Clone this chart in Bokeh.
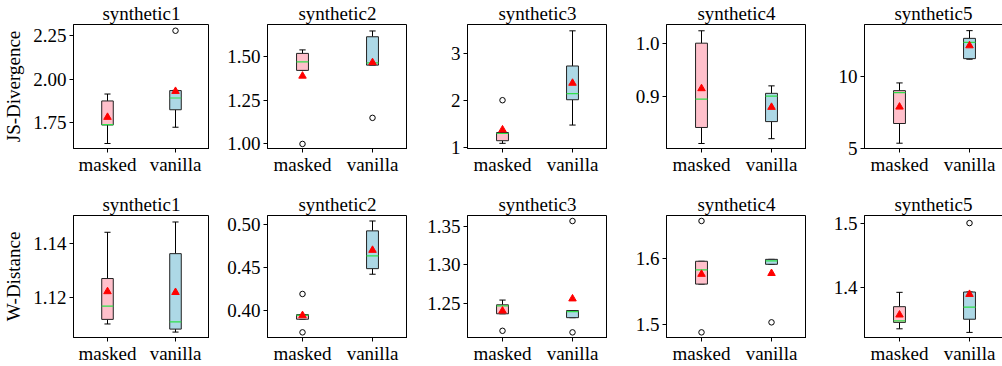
from bokeh.plotting import figure
from bokeh.layouts import gridplot
from bokeh.models import Range1d, FixedTicker, PrintfTickFormatter, Title
from bokeh.embed import file_html
from bokeh.resources import INLINE

# ---------------- data ----------------
datasets = ["synthetic1", "synthetic2", "synthetic3", "synthetic4", "synthetic5"]
methods = ["masked", "vanilla"]
metric_names = ["JS-Divergence", "W-Distance"]

# JS-Divergence box statistics, [dataset][method]
js_whislo = [[1.628, 1.722], [1.420, 1.450], [1.090, 1.480], [0.812, 0.821], [5.35, 11.23]]
js_q1     = [[1.735, 1.823], [1.420, 1.450], [1.146, 2.020], [0.842, 0.853], [6.73, 11.27]]
js_med    = [[1.737, 1.891], [1.469, 1.463], [1.300, 2.150], [0.895, 0.9007], [8.89, 12.41]]
js_q3     = [[1.874, 1.934], [1.517, 1.612], [1.320, 2.740], [1.000, 0.906], [9.03, 12.69]]
js_whishi = [[1.914, 1.935], [1.537, 1.645], [1.320, 3.490], [1.0232, 0.920], [9.57, 13.23]]
js_mean   = [[1.780, 1.930], [1.388, 1.465], [1.380, 2.375], [0.915, 0.880], [7.89, 12.18]]
js_fliers = [[[], [2.280]], [[1.000], [1.149]], [[2.010], []], [[], []], [[], []]]

# W-Distance box statistics, [dataset][method]
w_whislo = [[1.1103, 1.1073], [0.3896, 0.4420], [1.2373, 1.2323], [1.5610, 1.5910], [1.3363, 1.3307]]
w_q1     = [[1.1120, 1.1084], [0.3896, 0.4485], [1.2373, 1.2323], [1.5610, 1.5910], [1.3463, 1.3512]]
w_med    = [[1.1169, 1.1111], [0.3940, 0.4634], [1.2475, 1.2400], [1.5825, 1.5962], [1.3487, 1.3700]]
w_q3     = [[1.1271, 1.1363], [0.3949, 0.4925], [1.2488, 1.2414], [1.5956, 1.5985], [1.3707, 1.3935]]
w_whishi = [[1.1442, 1.1480], [0.3949, 0.5040], [1.2549, 1.2414], [1.5956, 1.5985], [1.3930, 1.3935]]
w_mean   = [[1.1223, 1.1220], [0.3940, 0.4700], [1.2410, 1.2566], [1.5760, 1.5773], [1.3580, 1.3900]]
w_fliers = [[[], []], [[0.419, 0.3743], []], [[1.2154], [1.3565, 1.2134]],
            [[1.6567, 1.4878], [1.503]], [[], [1.5006]]]

# y-axis ticks per panel
js_ticks = [[1.75, 2.00, 2.25], [1.00, 1.25, 1.50], [1, 2, 3], [0.9, 1.0], [5, 10]]
w_ticks = [[1.12, 1.14], [0.40, 0.45, 0.50], [1.25, 1.30, 1.35], [1.5, 1.6], [1.4, 1.5]]
js_fmt = ["%.2f", "%.2f", "%.0f", "%.1f", "%.0f"]
w_fmt = ["%.2f", "%.2f", "%.2f", "%.1f", "%.1f"]

# ---------------- layout / style ----------------
FONT = "Liberation Serif"
FS = "19px"
box_colors = ["pink", "lightblue"]
median_color = "#2fe04a"

js_ylim = [(1.599, 2.316), (0.974, 1.682), (0.98, 3.625), (0.8026, 1.035), (4.98, 13.66)]
w_ylim = [(1.1053, 1.1504), (0.3683, 0.5104), (1.2068, 1.3636), (1.480, 1.665), (1.3228, 1.5124)]

left_borders = [69, 58, 60, 59, 58]
frame_w = [140, 140, 140, 140, 138]
PX_PER_UNIT = 70.0


def make_panel(col, row, stats, ticks, fmt, ylim, ylabel):
    whislo, q1, med, q3, whishi, mean, fliers = stats
    lb = left_borders[col]
    fw = frame_w[col]
    if row == 0:
        top_b, bot_b, h_frame = 21, 43, 127
    else:
        top_b, bot_b, h_frame = 21, 27, 127
    x_end = 0.5 + fw / PX_PER_UNIT
    p = figure(width=lb + fw + (1 if col == 4 else 0), height=top_b + h_frame + bot_b,
               x_range=Range1d(0.5, x_end), y_range=Range1d(*ylim),
               output_backend="svg", toolbar_location=None, tools="",
               min_border_left=lb, min_border_right=(1 if col == 4 else 0),
               min_border_top=top_b, min_border_bottom=bot_b)
    t = Title(text=datasets[col], text_font=FONT, text_font_size=FS,
              text_font_style="normal", text_color="black", align="center",
              standoff=1, offset=0)
    p.add_layout(t, "above")
    p.outline_line_color = "black"
    p.outline_line_width = 1
    p.outline_line_alpha = 1
    p.grid.visible = False
    p.background_fill_color = "white"
    p.border_fill_color = "white"

    xs = [1, 2]
    bw = 0.17
    cw = 0.09
    # whiskers
    p.segment(x0=xs, y0=q3, x1=xs, y1=whishi, line_color="black", line_width=1)
    p.segment(x0=xs, y0=q1, x1=xs, y1=whislo, line_color="black", line_width=1)
    p.segment(x0=[x - cw / 2 for x in xs], y0=whishi, x1=[x + cw / 2 for x in xs], y1=whishi,
              line_color="black", line_width=1)
    p.segment(x0=[x - cw / 2 for x in xs], y0=whislo, x1=[x + cw / 2 for x in xs], y1=whislo,
              line_color="black", line_width=1)
    # boxes
    p.vbar(x=xs, width=bw, top=q3, bottom=q1, fill_color=box_colors,
           line_color="#222222", line_width=1)
    # medians
    p.segment(x0=[x - bw / 2 for x in xs], y0=med, x1=[x + bw / 2 for x in xs], y1=med,
              line_color=median_color, line_width=1.2)
    # means
    p.scatter(x=xs, y=mean, marker="triangle", size=7.5, fill_color="red", line_color="red")
    # outliers
    fx, fy = [], []
    for i, fl in enumerate(fliers):
        for v in fl:
            fx.append(xs[i])
            fy.append(v)
    if fx:
        p.scatter(x=fx, y=fy, marker="circle", size=5.5, fill_color=None,
                  line_color="black", line_width=1)

    # axes
    xa = p.xaxis[0]
    xa.ticker = FixedTicker(ticks=xs)
    xa.major_label_overrides = {1: methods[0], 2: methods[1]}
    ya = p.yaxis[0]
    ya.ticker = FixedTicker(ticks=ticks)
    ya.formatter = PrintfTickFormatter(format=fmt)
    for ax in (xa, ya):
        ax.major_label_text_font = FONT
        ax.major_label_text_font_size = FS
        ax.major_label_text_color = "black"
        ax.major_tick_out = 4
        ax.major_tick_in = 0
        ax.minor_tick_line_color = None
        ax.axis_line_color = "black"
        ax.major_tick_line_color = "black"
    xa.major_label_standoff = 1
    ya.major_label_standoff = 3
    if col == 0:
        ya.axis_label = ylabel
        ya.axis_label_text_font = FONT
        ya.axis_label_text_font_size = FS
        ya.axis_label_text_font_style = "normal"
        ya.axis_label_text_color = "black"
        ya.axis_label_standoff = 6
    return p


rows = []
for r, (stats_all, tks, fmts, ylims) in enumerate([
        ((js_whislo, js_q1, js_med, js_q3, js_whishi, js_mean, js_fliers), js_ticks, js_fmt, js_ylim),
        ((w_whislo, w_q1, w_med, w_q3, w_whishi, w_mean, w_fliers), w_ticks, w_fmt, w_ylim)]):
    row = []
    for c in range(5):
        stats = [s[c] for s in stats_all]
        row.append(make_panel(c, r, stats, tks[c], fmts[c], ylims[c], metric_names[r]))
    rows.append(row)

grid = gridplot(rows, toolbar_location=None)

open("out.html", "w").write(file_html(grid, INLINE))
